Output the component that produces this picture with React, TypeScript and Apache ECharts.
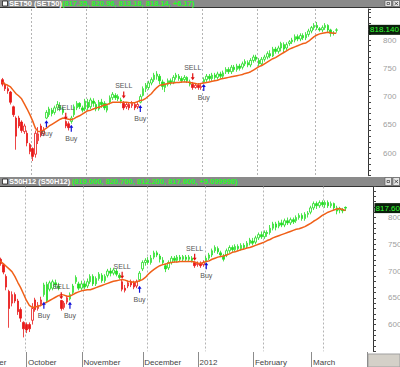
import React, { useEffect, useRef } from 'react';
import * as echarts from 'echarts';

const FONT = '"Liberation Sans", Arial, Helvetica, sans-serif';

// trading days before the visible window (only the label strip uses them)
const leadDates = ['2011-09-01','2011-09-02','2011-09-05','2011-09-06','2011-09-07','2011-09-08','2011-09-09','2011-09-12','2011-09-13','2011-09-14','2011-09-15'];

const tradeDates = [
'2011-09-16','2011-09-19','2011-09-20','2011-09-21','2011-09-22','2011-09-23','2011-09-26','2011-09-27','2011-09-28','2011-09-29','2011-09-30',
'2011-10-03','2011-10-04','2011-10-05','2011-10-06','2011-10-07','2011-10-10','2011-10-11','2011-10-12','2011-10-13','2011-10-14','2011-10-17','2011-10-18','2011-10-19','2011-10-20','2011-10-21','2011-10-25','2011-10-26','2011-10-27','2011-10-28','2011-10-31',
'2011-11-01','2011-11-02','2011-11-03','2011-11-04','2011-11-07','2011-11-08','2011-11-09','2011-11-10','2011-11-11','2011-11-14','2011-11-15','2011-11-16','2011-11-17','2011-11-18','2011-11-21','2011-11-22','2011-11-23','2011-11-24','2011-11-25','2011-11-28','2011-11-29','2011-11-30',
'2011-12-01','2011-12-02','2011-12-06','2011-12-07','2011-12-08','2011-12-09','2011-12-13','2011-12-14','2011-12-15','2011-12-16','2011-12-19','2011-12-20','2011-12-21','2011-12-22','2011-12-23','2011-12-26','2011-12-27','2011-12-28','2011-12-29','2011-12-30',
'2012-01-04','2012-01-05','2012-01-06','2012-01-09','2012-01-10','2012-01-11','2012-01-12','2012-01-13','2012-01-16','2012-01-17','2012-01-18','2012-01-19','2012-01-20','2012-01-23','2012-01-24','2012-01-25','2012-01-26','2012-01-27','2012-01-30','2012-01-31',
'2012-02-01','2012-02-02','2012-02-03','2012-02-06','2012-02-07','2012-02-08','2012-02-09','2012-02-10','2012-02-13','2012-02-14','2012-02-15','2012-02-16','2012-02-17','2012-02-20','2012-02-21','2012-02-22','2012-02-23','2012-02-24','2012-02-27','2012-02-28','2012-02-29',
'2012-03-01','2012-03-02','2012-03-05','2012-03-06','2012-03-08','2012-03-09','2012-03-12','2012-03-13'];

// empty future slots on the right of each axis
const futureDates = ['2012-03-14','2012-03-15','2012-03-16','2012-03-19','2012-03-20','2012-03-21','2012-03-22','2012-03-23','2012-03-26','2012-03-27','2012-03-28','2012-03-29'];

const monthLabels: Record<string, string> = {
  '09': 'September', '10': 'October', '11': 'November', '12': 'December',
  '01': '2012', '02': 'February', '03': 'March',
};

// SET50 daily [open, close, low, high]
const setOHLC: number[][] = [
  [730,722,718,733],[722,714,710,725],[714,710,705,718],[708,690,686,710],[682,668,664,684],[662,630,606,665],[662,648,644,666],[655,640,636,658],[638,648,634,652],[635,618,612,640],[615,603,598,618],
  [608,594,586,610],[598,635,592,640],[622,634,616,646],[648,632,628,652],[634,640,630,646],[662,672,660,676],[668,678,664,682],[676,670,665,680],[672,680,668,684],[680,686,675,692],[684,678,674,690],[678,672,668,682],[656,648,644,658],[652,645,640,656],[656,662,652,666],[668,682,664,686],[680,688,676,692],[688,682,678,690],[680,676,672,684],[678,692,674,696],
  [690,680,676,696],[682,694,678,698],[692,688,682,697],[686,678,674,690],[678,690,675,694],[690,686,680,696],[688,680,676,692],[676,684,672,688],[690,698,686,702],[698,704,694,708],[702,698,694,706],[700,696,692,704],[694,692,688,698],[688,680,676,692],[682,686,678,690],[686,680,676,690],[684,688,680,692],[686,680,676,690],[682,686,678,690],[690,700,688,704],[702,714,700,718],[714,720,708,724],
  [716,724,712,728],[724,730,720,734],[730,738,726,742],[736,740,730,745],[736,728,722,740],[726,718,712,730],[716,722,708,726],[722,728,718,732],[728,724,720,732],[726,734,722,738],[734,738,730,742],[736,732,728,740],[732,728,724,736],[730,734,726,738],[734,728,724,736],[726,722,718,730],[722,716,712,726],[716,720,714,724],[720,716,712,724],[716,718,712,722],
  [726,730,724,734],[730,736,726,740],[736,732,728,740],[732,738,728,742],[738,734,730,742],[734,740,730,744],[740,736,732,744],[736,742,732,746],[744,748,740,752],[748,744,740,752],[744,752,740,756],[752,748,744,756],[748,754,744,758],[754,750,746,758],[752,758,748,762],[758,762,754,766],[760,756,752,764],[756,764,752,768],[764,770,760,774],[770,766,762,774],
  [764,758,754,768],[758,766,754,770],[766,770,762,774],[770,776,766,780],[776,772,768,782],[772,784,770,788],[784,780,776,788],[780,786,776,790],[786,794,780,797],[792,784,778,796],[786,792,782,796],[794,797,790,800],[797,800,793,804],[800,806,796,810],[806,802,798,810],[802,808,798,812],[808,804,800,812],[804,810,800,814],[810,816,806,820],[816,822,812,825],[822,826,818,830],
  [826,822,818,832],[820,818,815,823],[818,822,814,826],[822,826,818,830],[826,818,814,828],[818,812,806,820],[812,811.97,808,816],[817.35,818.14,813.18,820.96],
];

// SET50 moving average (orange line)
const setMA: number[] = [
  725,722,720,717,711,705,701,696,687,678,668,
  657,644,638,638,641,644,648,651,654,657,660,662,661,660,659,661,664,666,669,672,
  675,676,678,680,681,683,685,686,688,690,690,690,690,690,690,689,689,689,691,693,694,697,
  701,705,711,716,720,721,722,723,724,724,725,725,726,726,726,725,724,723,722,723,
  724,725,726,727,728,729,731,732,733,734,735,736,737,738,739,741,742,744,747,750,
  753,755,758,761,764,767,769,772,775,778,781,784,786,788,790,792,794,795,798,802,806,
  809,811,812,813,814,813,812,812,
];

// S50H12 futures daily [open, close, low, high]
const s50OHLC: number[][] = [
  [732,726,722,735],[726,722,718,730],[722,714,710,725],[712,698,694,715],[690,670,664,694],[662,630,594,665],[640,656,634,662],[656,644,640,660],[644,624,618,648],[628,612,605,632],[604,592,576,606],
  [600,590,584,604],[600,592,586,604],[608,630,600,640],[646,628,624,650],[630,636,626,642],[638,646,634,652],[656,674,652,678],[675,645,640,680],[666,678,662,682],[668,680,664,684],[678,674,668,684],[672,668,664,678],[645,630,626,646],[632,640,628,644],[642,650,638,654],[648,656,645,660],[660,672,656,676],[680,688,676,692],[676,668,664,680],[668,676,664,682],
  [676,670,666,682],[672,680,668,686],[680,690,676,694],[690,676,672,694],[676,686,672,690],[686,694,682,698],[692,682,678,696],[682,690,678,694],[692,700,688,704],[700,696,690,706],[696,702,692,706],[700,694,690,704],[692,688,684,696],[680,666,662,684],[668,664,660,674],[672,678,668,682],[680,674,670,684],[678,670,666,682],[672,680,668,684],[684,696,680,700],[704,716,700,720],[716,720,710,724],
  [720,716,712,726],[716,724,712,730],[726,734,722,738],[734,730,726,738],[728,722,716,732],[720,716,712,726],[710,704,698,714],[706,716,702,720],[716,724,712,728],[724,720,716,728],[720,726,716,730],[726,722,718,730],[722,727,718,730],[726,722,718,730],[722,726,718,730],[724,720,716,728],[716,710,706,718],[712,714,708,718],[714,710,706,718],[712,716,708,720],
  [718,724,716,728],[724,730,720,734],[730,738,726,742],[738,744,734,748],[742,736,732,746],[734,730,726,738],[728,722,718,732],[730,738,726,742],[738,744,734,748],[744,740,736,748],[740,746,736,750],[746,742,738,750],[742,748,738,752],[748,744,740,752],[746,752,742,756],[752,758,748,762],[756,752,748,762],[754,762,750,766],[762,768,758,772],[768,764,760,774],
  [764,772,760,776],[772,770,764,776],[772,780,768,786],[780,788,776,792],[788,782,776,792],[784,790,780,794],[790,786,782,796],[786,794,782,798],[794,790,786,800],[790,796,786,800],[796,792,788,800],[794,800,790,804],[800,804,796,808],[804,798,794,808],[798,806,794,810],[806,808,800,812],[810,818,806,822],[818,826,814,830],[826,822,816,830],[822,828,818,832],[828,824,820,832],
  [824,828,818,832],[828,822,818,832],[822,826,818,830],[826,818,814,828],[818,812,806,822],[814,816,808,820],[814,812.5,808,818],[819,817.6,812.2,820.7],
];

const s50MA: number[] = [
  724,721,718,714,709,704,699,690,679,669,657,
  645,636,632,633,634,636,639,642,645,648,651,654,656,655,653,653,656,659,661,663,
  664,665,665,667,669,671,673,675,677,679,681,682,683,684,683,681,680,679,680,682,684,688,
  694,699,703,707,710,712,713,715,716,717,717,718,718,718,718,718,717,715,714,716,
  718,719,722,724,726,727,728,730,732,735,736,738,740,741,743,744,746,748,750,752,
  754,757,759,762,764,766,768,770,772,774,776,778,779,781,783,786,789,793,796,800,804,
  807,810,812,814,816,817,815,813,
];

// signal markers [date, price level of the arrow]
const setBuy: [string, number][] = [['2011-10-10', 652], ['2011-10-21', 644], ['2011-11-28', 679], ['2012-01-04', 716]];
const setSell: [string, number][] = [['2011-10-19', 665], ['2011-11-18', 703], ['2011-12-27', 735]];
const s50Buy: [string, number][] = [['2011-10-11', 636], ['2011-10-25', 636], ['2011-11-28', 666], ['2012-01-04', 710]];
const s50Sell: [string, number][] = [['2011-10-19', 654], ['2011-11-18', 692], ['2011-12-27', 726]];

const setTitle = 'SET50 (SET50)';
const setQuote = '(817.35, 820.96, 813.18, 818.14, +6.17)';
const s50Title = 'S50H12 (S50H12)';
const s50Quote = '(819.000, 820.700, 812.200, 817.600, +5.099998)';

const GREEN = '#22dd22';
const RED = '#e81818';
const UP_ARROW = 'path://M2 0 L4 3 L2.6 3 L2.6 7 L1.4 7 L1.4 3 L0 3 Z';
const DOWN_ARROW = 'path://M1.4 0 L2.6 0 L2.6 4 L4 4 L2 7 L0 4 L1.4 4 Z';

// colour follows the signal state (green after Buy, red after SELL);
// hollow body when close >= open, filled when close < open
function buildCandles(ohlc: number[][], buys: [string, number][], sells: [string, number][]) {
  const buyDays = new Set(buys.map((b) => b[0]));
  const sellDays = new Set(sells.map((s) => s[0]));
  let long = false;
  return ohlc.map((d, i) => {
    const day = tradeDates[i];
    if (buyDays.has(day)) long = true;
    if (sellDays.has(day)) long = false;
    const col = long ? GREEN : RED;
    const fill = d[1] >= d[0] ? '#ffffff' : col;
    return { value: d, itemStyle: { color: fill, color0: fill, borderColor: col, borderColor0: col } };
  });
}

function monthStarts(cats: string[], includeFirst: boolean) {
  const s = new Set<number>();
  cats.forEach((c, i) => {
    if (i === 0) {
      if (includeFirst) s.add(0);
      return;
    }
    if (c.slice(0, 7) !== cats[i - 1].slice(0, 7)) s.add(i);
  });
  return s;
}

const topCats = tradeDates.concat(futureDates.slice(0, 11));
const botCats = tradeDates.concat(futureDates.slice(0, 9));
const labelCats = leadDates.concat(tradeDates, futureDates);

const topStarts = monthStarts(topCats, false);
const botStarts = monthStarts(botCats, false);
const labelStarts = monthStarts(labelCats, true);

function yAxisFor(grid: number, min: number, max: number) {
  return {
    type: 'value', gridIndex: grid, position: 'right', min, max, interval: 10,
    axisLine: { show: true, lineStyle: { color: '#333', width: 1 } },
    axisTick: { show: true, length: 3, lineStyle: { color: '#444' } },
    splitLine: { show: false },
    axisLabel: {
      formatter: (v: number) => (v % 50 === 0 && v >= 600 && v <= 800 ? String(v) : ''),
      color: '#a0a0a0', fontSize: 8, fontFamily: FONT, margin: 15, align: 'left',
    },
  };
}

function candleSeries(grid: number, ohlc: number[][], buys: [string, number][], sells: [string, number][]) {
  return {
    type: 'candlestick', xAxisIndex: grid, yAxisIndex: grid, data: buildCandles(ohlc, buys, sells),
    barWidth: 2, itemStyle: { borderWidth: 0.8 }, z: 2,
  };
}

function maSeries(grid: number, ma: number[]) {
  return {
    type: 'line', xAxisIndex: grid, yAxisIndex: grid, data: ma, showSymbol: false,
    lineStyle: { color: '#f06018', width: 1.5 }, z: 3,
  };
}

function signalSeries(grid: number, data: [string, number][], buy: boolean) {
  return {
    type: 'scatter', xAxisIndex: grid, yAxisIndex: grid, data,
    symbol: buy ? UP_ARROW : DOWN_ARROW, symbolSize: [4, 7], z: 4,
    itemStyle: { color: buy ? '#1010d8' : '#e01010', opacity: 1 },
    label: {
      show: true, position: buy ? 'bottom' : 'top', distance: buy ? 3 : 2,
      formatter: buy ? 'Buy' : 'SELL', color: '#555', fontSize: 7, fontFamily: FONT,
    },
  };
}

function headerGraphics(id: string, y: number, h: number, title: string, quote: string, quoteX: number) {
  const cy = y + h / 2;
  return [
    { id: id + 'bar', type: 'rect', shape: { x: 0, y, width: 400, height: h }, style: { fill: '#8a8a8a' } },
    { id: id + 'ln', type: 'line', shape: { x1: 0, y1: y + h + 0.5, x2: 400, y2: y + h + 0.5 }, style: { stroke: '#333', lineWidth: 1 } },
    { id: id + 'cb', type: 'rect', shape: { x: 2.5, y: cy - 2.5, width: 5, height: 5 }, style: { fill: '#ffffff', stroke: '#222', lineWidth: 0.8 } },
    { id: id + 't1', type: 'text', x: 9, y: cy, style: { text: title, fill: '#ffffff', fontSize: 7.5, fontWeight: 'bold', fontFamily: FONT, verticalAlign: 'middle' } },
    { id: id + 't2', type: 'text', x: quoteX, y: cy, style: { text: quote, fill: '#22ff22', fontSize: 7.5, fontWeight: 'bold', fontFamily: FONT, verticalAlign: 'middle' } },
    { id: id + 'b1', type: 'rect', shape: { x: 385, y: y + 0.5, width: 6.5, height: h - 1 }, style: { fill: '#e4e4e4', stroke: '#555', lineWidth: 0.6 } },
    { id: id + 'b1i', type: 'rect', shape: { x: 387, y: cy - 1, width: 2.5, height: 2 }, style: { fill: 'none', stroke: '#222', lineWidth: 0.6 } },
    { id: id + 'b2', type: 'rect', shape: { x: 393, y: y + 0.5, width: 6.5, height: h - 1 }, style: { fill: '#e4e4e4', stroke: '#555', lineWidth: 0.6 } },
    { id: id + 'x1', type: 'line', shape: { x1: 394.5, y1: cy - 1.5, x2: 398, y2: cy + 1.5 }, style: { stroke: '#222', lineWidth: 0.7 } },
    { id: id + 'x2', type: 'line', shape: { x1: 394.5, y1: cy + 1.5, x2: 398, y2: cy - 1.5 }, style: { stroke: '#222', lineWidth: 0.7 } },
  ];
}

function priceBox(id: string, x: number, y: number, value: number) {
  return [
    { id: id + 'r', type: 'rect', z: 20, shape: { x, y: y - 5, width: 400 - x, height: 10 }, style: { fill: '#0c1f0c' } },
    { id: id + 't', type: 'text', z: 21, x: x + 1, y, style: { text: value.toFixed(3), fill: '#33ff33', fontSize: 8, fontFamily: FONT, verticalAlign: 'middle' } },
  ];
}

export default function App() {
  const ref = useRef<HTMLDivElement>(null);
  useEffect(() => {
    if (!ref.current) return;
    const chart = echarts.init(ref.current, undefined, { renderer: 'svg' });
    const gridBase = { outerBoundsMode: 'none', containLabel: false };
    const baseGraphic = [
      ...headerGraphics('h1', 0, 7, setTitle, setQuote, 62),
      ...headerGraphics('h2', 177, 9, s50Title, s50Quote, 72),
      { id: 'corner', type: 'rect', shape: { x: 368, y: 354, width: 32, height: 13 }, style: { fill: '#d4d0c8', stroke: '#a0a0a0', lineWidth: 1 } },
    ];
    const option: any = {
      animation: false,
      backgroundColor: '#ffffff',
      textStyle: { fontFamily: FONT },
      grid: [
        { ...gridBase, left: 0.9, right: 32, top: 9, height: 166.7 },
        { ...gridBase, left: -6.9, right: 27, top: 186.5, height: 164.8 },
        { ...gridBase, left: -34.2, right: 33, top: 352, height: 15 },
      ],
      xAxis: [
        {
          type: 'category', gridIndex: 0, data: topCats, boundaryGap: true,
          axisLine: { show: false }, axisTick: { show: false }, axisLabel: { show: false },
          splitLine: { show: true, interval: (i: number) => topStarts.has(i), lineStyle: { color: '#b4b4b4', type: [2, 2], width: 1 } },
        },
        {
          type: 'category', gridIndex: 1, data: botCats, boundaryGap: true,
          axisLine: { show: false }, axisTick: { show: false }, axisLabel: { show: false },
          splitLine: { show: true, interval: (i: number) => botStarts.has(i), lineStyle: { color: '#b4b4b4', type: [2, 2], width: 1 } },
        },
        {
          type: 'category', gridIndex: 2, data: labelCats, boundaryGap: true, position: 'top',
          axisLine: { show: false },
          axisTick: {
            show: true, inside: true, length: 3,
            interval: (i: number, v: string) => new Date(v + 'T12:00:00').getDay() === 1 && !labelStarts.has(i),
            lineStyle: { color: '#666' },
          },
          axisLabel: {
            show: true, inside: true, margin: 6, align: 'left',
            interval: (i: number) => labelStarts.has(i),
            formatter: (v: string) => monthLabels[v.slice(5, 7)] || '',
            color: '#444', fontSize: 8, fontFamily: FONT,
          },
          splitLine: { show: true, interval: (i: number) => labelStarts.has(i), lineStyle: { color: '#8c8c8c', width: 1 } },
        },
      ],
      yAxis: [
        yAxisFor(0, 560, 855),
        yAxisFor(1, 550, 858),
        { type: 'value', gridIndex: 2, show: false, min: 0, max: 1 },
      ],
      series: [
        candleSeries(0, setOHLC, setBuy, setSell),
        maSeries(0, setMA),
        signalSeries(0, setBuy, true),
        signalSeries(0, setSell, false),
        candleSeries(1, s50OHLC, s50Buy, s50Sell),
        maSeries(1, s50MA),
        signalSeries(1, s50Buy, true),
        signalSeries(1, s50Sell, false),
      ],
      graphic: baseGraphic,
    };
    chart.setOption(option);
    const setLast = setOHLC[setOHLC.length - 1][1];
    const s50Last = s50OHLC[s50OHLC.length - 1][1];
    const p1 = chart.convertToPixel({ gridIndex: 0 } as any, [0, setLast]) as number[];
    const p2 = chart.convertToPixel({ gridIndex: 1 } as any, [0, s50Last]) as number[];
    chart.setOption({
      graphic: [
        ...baseGraphic,
        ...priceBox('pb1', 369, p1[1], setLast),
        ...priceBox('pb2', 374.5, p2[1], s50Last),
      ],
    });
    return () => chart.dispose();
  }, []);
  return <div ref={ref} style={{ position: 'absolute', left: 0, top: 0, width: 400, height: 367 }} />;
}
